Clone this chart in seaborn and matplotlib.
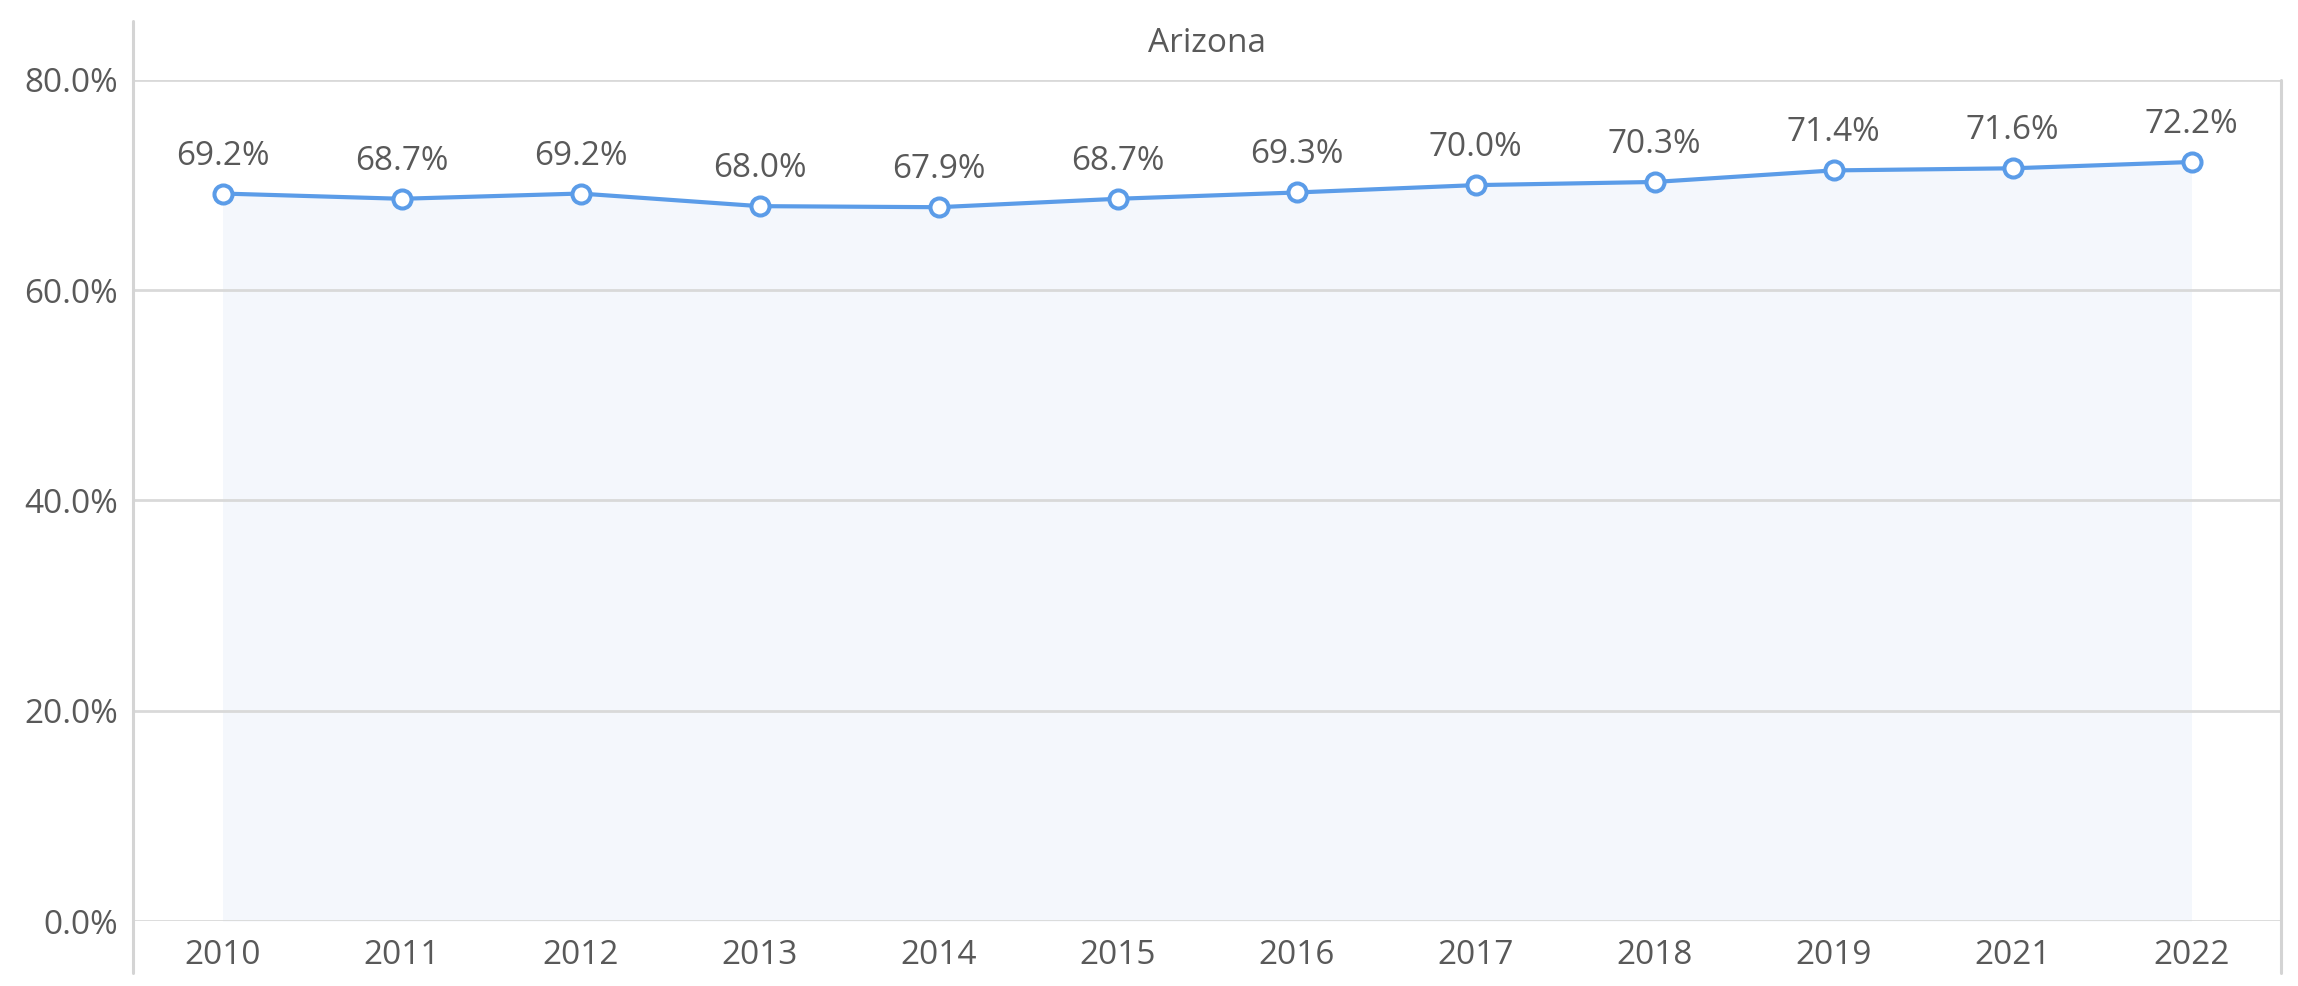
import matplotlib
matplotlib.use("Agg")
import matplotlib.pyplot as plt
from matplotlib.lines import Line2D
import seaborn as sns
import pandas as pd

years = ["2010", "2011", "2012", "2013", "2014", "2015", "2016", "2017", "2018", "2019", "2021", "2022"]
values = [69.2, 68.7, 69.2, 68.0, 67.9, 68.7, 69.3, 70.0, 70.3, 71.4, 71.6, 72.2]
yticks = [0, 20, 40, 60, 80]
title = "Arizona"

sns.set_theme(style="white")
plt.rcParams["font.family"] = ["Open Sans", "DejaVu Sans"]

W, H = 2298, 986
fig = plt.figure(figsize=(W / 100, H / 100), dpi=100)
L, R, T, B = 133, 2281, 80, 921
ax = fig.add_axes([L / W, 1 - B / H, (R - L) / W, (B - T) / H])

df = pd.DataFrame({"year": years, "value": values})
xpos = list(range(len(years)))

line_c = "#5b9ce8"
text_c = "#595959"
grid_c = "#d9d9d9"
fs = 24

ax.set_axisbelow(False)
ax.fill_between(xpos, df["value"], 0, color="#f4f7fc", zorder=1, linewidth=0)
sns.lineplot(data=df, x="year", y="value", ax=ax, color=line_c, linewidth=3,
             marker="o", markersize=13, markerfacecolor="white",
             markeredgecolor=line_c, markeredgewidth=2.9, zorder=3, sort=False)

for i, v in enumerate(values):
    ax.annotate(f"{v:.1f}%", (i, v), xytext=(0, 27), textcoords="offset points",
                ha="center", va="center", fontsize=fs, color=text_c, zorder=4)

ax.set_xlim(-0.5, len(years) - 0.5)
ax.set_ylim(0, 80)
ax.set_yticks(yticks)
ax.set_yticklabels([f"{t:.1f}%" for t in yticks])
ax.set_xticks(xpos)
ax.set_xticklabels(years)
ax.tick_params(axis="both", length=0, labelsize=fs, labelcolor=text_c)
ax.tick_params(axis="y", pad=11)
ax.tick_params(axis="x", pad=13)
ax.set_xlabel("")
ax.set_ylabel("")
ax.yaxis.grid(True, color=grid_c, linewidth=2, zorder=2)
ax.xaxis.grid(False)
for s in ax.spines.values():
    s.set_visible(False)
ax.set_facecolor("none")

# frame lines in figure pixels
fig.add_artist(Line2D([L / W, L / W], [1 - 21 / H, 1 - 973 / H], color="#d4d4d4", linewidth=2.2))
fig.add_artist(Line2D([R / W, R / W], [1 - T / H, 1 - 973 / H], color="#d4d4d4", linewidth=2.2))

fig.text((L + R) / 2 / W, 1 - 44 / H, title, ha="center", va="center", fontsize=fs, color=text_c)

fig.savefig("out.png", dpi=100, facecolor="white")
